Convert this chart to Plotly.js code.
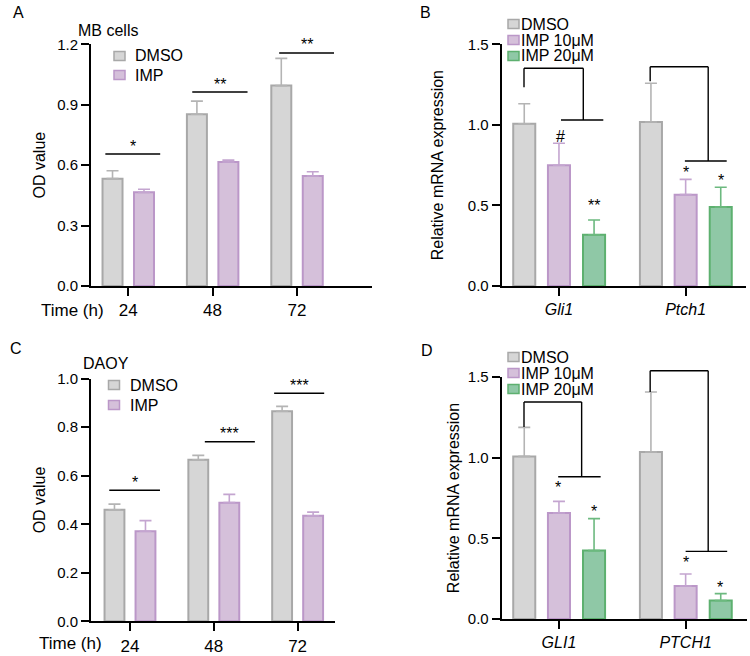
<!DOCTYPE html>
<html>
<head>
<meta charset="utf-8">
<script src="https://cdn.plot.ly/plotly-3.0.1.min.js"></script>
<style>html,body{margin:0;padding:0;background:#fff;}#chart{width:750px;height:656px;}</style>
</head>
<body>
<div id="chart"></div>
<script>
// ---------- data ----------
const timeCats = ['24', '48', '72'];
const geneCatsB = ['Gli1', 'Ptch1'];
const geneCatsD = ['GLI1', 'PTCH1'];

// Panel A: MB cells
const mbDmso = [0.533, 0.853, 0.995];
const mbDmsoSd = [0.039, 0.065, 0.135];
const mbImp = [0.465, 0.616, 0.546];
const mbImpSd = [0.015, 0.009, 0.021];
const mbSig = ['*', '**', '**'];

// Panel C: DAOY
const daoyDmso = [0.460, 0.666, 0.866];
const daoyDmsoSd = [0.023, 0.018, 0.020];
const daoyImp = [0.371, 0.489, 0.435];
const daoyImpSd = [0.044, 0.034, 0.015];
const daoySig = ['*', '***', '***'];

// Panel B: mouse mRNA
const bDmso = [1.007, 1.018];
const bDmsoSd = [0.124, 0.240];
const bImp10 = [0.749, 0.567];
const bImp10Sd = [0.137, 0.095];
const bImp20 = [0.318, 0.490];
const bImp20Sd = [0.092, 0.123];
const bSig10 = ['#', '*'];
const bSig20 = ['**', '*'];

// Panel D: human mRNA
const dDmso = [1.008, 1.035];
const dDmsoSd = [0.180, 0.372];
const dImp10 = [0.657, 0.205];
const dImp10Sd = [0.072, 0.074];
const dImp20 = [0.424, 0.114];
const dImp20Sd = [0.198, 0.043];
const dSig10 = ['*', '*'];
const dSig20 = ['*', '*'];

const seriesTwo = ['DMSO', 'IMP'];
const seriesThree = ['DMSO', 'IMP 10μM', 'IMP 20μM'];

// ---------- styles ----------
const FONT = 'Liberation Sans, Arial, Helvetica, sans-serif';
const GRAY = {fill: '#d6d6d6', line: '#a8a8a8', err: '#b4b4b4'};
const PURP = {fill: '#d5c0da', line: '#bb97c8', err: '#c4a5d0'};
const GREEN = {fill: '#8fc8a6', line: '#5db06f', err: '#6cb97f'};

function barTrace(xa, ya, cats, vals, sd, sty, offset, width) {
  return {
    type: 'bar', x: cats, y: vals, xaxis: xa, yaxis: ya,
    offset: offset, width: width, showlegend: false,
    marker: {color: sty.fill, line: {color: sty.line, width: 2}},
    error_y: {type: 'data', symmetric: false, array: sd, arrayminus: sd.map(() => 0),
              color: sty.err, thickness: 1.6, width: 6},
    hoverinfo: 'skip'
  };
}

const wAC = 0.237, wBD = 0.174;
const traces = [
  barTrace('x', 'y', timeCats, mbDmso, mbDmsoSd, GRAY, -0.185 - wAC / 2, wAC),
  barTrace('x', 'y', timeCats, mbImp, mbImpSd, PURP, 0.188 - wAC / 2, wAC),
  barTrace('x2', 'y2', geneCatsB, bDmso, bDmsoSd, GRAY, -0.274 - wBD / 2, wBD),
  barTrace('x2', 'y2', geneCatsB, bImp10, bImp10Sd, PURP, 0.0 - wBD / 2, wBD),
  barTrace('x2', 'y2', geneCatsB, bImp20, bImp20Sd, GREEN, 0.277 - wBD / 2, wBD),
  barTrace('x3', 'y3', timeCats, daoyDmso, daoyDmsoSd, GRAY, -0.185 - wAC / 2, wAC),
  barTrace('x3', 'y3', timeCats, daoyImp, daoyImpSd, PURP, 0.185 - wAC / 2, wAC),
  barTrace('x4', 'y4', geneCatsD, dDmso, dDmsoSd, GRAY, -0.274 - wBD / 2, wBD),
  barTrace('x4', 'y4', geneCatsD, dImp10, dImp10Sd, PURP, 0.0 - wBD / 2, wBD),
  barTrace('x4', 'y4', geneCatsD, dImp20, dImp20Sd, GREEN, 0.277 - wBD / 2, wBD)
];

function xAxis(domain, range, anchor, italic, cats, fsize) {
  const ax = {
    domain: domain, range: range, anchor: anchor, type: 'category',
    showline: true, linewidth: 2, linecolor: '#000', mirror: false,
    ticks: 'outside', ticklen: 8, tickwidth: 2, tickcolor: '#000',
    showgrid: false, zeroline: false, fixedrange: true,
    tickfont: {family: FONT, size: fsize, color: '#000'}
  };
  if (italic) {
    ax.tickmode = 'array';
    ax.tickvals = cats;
    ax.ticktext = cats.map(c => '<i>' + c + '</i>');
  }
  return ax;
}
function yAxis(domain, range, dtick, anchor, title, standoff) {
  return {
    domain: domain, range: range, anchor: anchor, dtick: dtick, tick0: 0,
    tickformat: '.1f', showline: true, linewidth: 2, linecolor: '#000',
    ticks: 'outside', ticklen: 8, tickwidth: 2, tickcolor: '#000',
    showgrid: false, zeroline: false, fixedrange: true,
    tickfont: {family: FONT, size: 15, color: '#000'},
    title: {text: title, font: {family: FONT, size: 16, color: '#000'}, standoff: standoff}
  };
}

const W = 750, H = 656;
const px = v => v / W, py = v => 1 - v / H;

const shapes = [];
const annotations = [];

function text(x, y, t, size, opts) {
  annotations.push(Object.assign({
    x: x, y: y, xref: 'paper', yref: 'paper', text: t, showarrow: false,
    font: {family: FONT, size: size, color: '#000'}, xanchor: 'center', yanchor: 'middle'
  }, opts || {}));
}

// panel letters and sub-titles
text(px(18), py(12), 'A', 16);
text(px(425), py(12), 'B', 16);
text(px(16), py(348), 'C', 16);
text(px(427), py(350), 'D', 16);
text(px(76), py(30), 'MB cells', 16, {xanchor: 'left'});
text(px(81), py(363), 'DAOY', 16, {xanchor: 'left'});
text(px(106), py(310), 'Time (h)', 17, {xanchor: 'right'});
text(px(104), py(643), 'Time (h)', 17, {xanchor: 'right'});

// manual legends
function legend(names, colors, sqX, txtX, yCenters, sqW, sqH) {
  names.forEach((n, i) => {
    const yc = yCenters[i];
    shapes.push({type: 'rect', xref: 'paper', yref: 'paper',
      x0: px(sqX), x1: px(sqX + sqW), y0: py(yc - sqH / 2), y1: py(yc + sqH / 2),
      fillcolor: colors[i].fill, line: {color: colors[i].line, width: 1.5}});
    text(px(txtX), py(yc), n, 16, {xanchor: 'left'});
  });
}
legend(seriesTwo, [GRAY, PURP], 114, 133, [56, 75], 11, 9);
legend(seriesTwo, [GRAY, PURP], 108.5, 128, [385, 405], 11, 9);
legend(seriesThree, [GRAY, PURP, GREEN], 508, 519, [24, 40, 56], 11, 9);
legend(seriesThree, [GRAY, PURP, GREEN], 508, 519, [357, 373, 389], 11, 9);

// significance lines for A and C (segment ends relative to each category centre)
function sigLines(xa, ya, ymax, segs, labels) {
  segs.forEach((s, i) => {
    const x0 = i + s[0], x1 = i + s[1];
    shapes.push({type: 'line', xref: xa, yref: ya + ' domain',
      x0: x0, x1: x1, y0: s[2] / ymax, y1: s[2] / ymax, line: {color: '#000', width: 1.4}});
    annotations.push({x: (x0 + x1) / 2, y: s[2], xref: xa, yref: ya, text: labels[i],
      showarrow: false, yanchor: 'middle', yshift: 8,
      font: {family: FONT, size: 16, color: '#000'}});
  });
}
sigLines('x', 'y', 1.2, [[-0.27, 0.38, 0.655], [-0.24, 0.415, 0.963], [-0.21, 0.44, 1.157]], mbSig);
sigLines('x3', 'y3', 1.0, [[-0.247, 0.358, 0.54], [-0.107, 0.49, 0.74], [-0.28, 0.317, 0.94]], daoySig);

// brackets for B and D
function bracket(xa, ya, ymax, xl, yl0, ytop, xr, ybot, bx0, bx1) {
  const d = v => v / ymax;
  const yr = ya + ' domain';
  const L = {color: '#000', width: 1.4};
  shapes.push({type: 'line', xref: xa, yref: yr, x0: xl, x1: xl, y0: d(yl0), y1: d(ytop), line: L});
  shapes.push({type: 'line', xref: xa, yref: yr, x0: xl, x1: xr, y0: d(ytop), y1: d(ytop), line: L});
  shapes.push({type: 'line', xref: xa, yref: yr, x0: xr, x1: xr, y0: d(ytop), y1: d(ybot), line: L});
  shapes.push({type: 'line', xref: xa, yref: yr, x0: bx0, x1: bx1, y0: d(ybot), y1: d(ybot), line: L});
}
bracket('x2', 'y2', 1.5, -0.276, 1.233, 1.351, 0.192, 1.03, 0.016, 0.35);
bracket('x2', 'y2', 1.5, 0.72, 1.27, 1.361, 1.178, 0.776, 0.994, 1.324);
bracket('x4', 'y4', 1.5, -0.276, 1.19, 1.345, 0.179, 0.882, -0.006, 0.329);
bracket('x4', 'y4', 1.5, 0.72, 1.407, 1.539, 1.178, 0.419, 1.0, 1.328);

function mark(xa, ya, x, y, t, shift) {
  annotations.push({x: x, y: y, xref: xa, yref: ya, text: t, showarrow: false,
    yanchor: 'middle', yshift: shift, font: {family: FONT, size: 16, color: '#000'}});
}
mark('x2', 'y2', 0.013, 0.937, bSig10[0], -1);
mark('x2', 'y2', 0.279, 0.523, bSig20[0], -4);
mark('x2', 'y2', 1.0, 0.73, bSig10[1], -4);
mark('x2', 'y2', 1.276, 0.678, bSig20[1], -4);
mark('x4', 'y4', -0.006, 0.839, dSig10[0], -4);
mark('x4', 'y4', 0.278, 0.694, dSig20[0], -4);
mark('x4', 'y4', 1.0, 0.378, dSig10[1], -4);
mark('x4', 'y4', 1.27, 0.217, dSig20[1], -4);

const layout = {
  width: W, height: H, margin: {l: 0, r: 0, t: 0, b: 0},
  paper_bgcolor: '#fff', plot_bgcolor: 'rgba(0,0,0,0)',
  barmode: 'overlay', showlegend: false,
  font: {family: FONT, size: 15, color: '#000'},
  xaxis: xAxis([px(91), px(372)], [-0.44, 2.89], 'y', false, timeCats, 17),
  yaxis: yAxis([py(286), py(44.3)], [0, 1.2], 0.3, 'x', 'OD value', 8),
  xaxis2: xAxis([px(501.7), px(745.7)], [-0.452, 1.474], 'y2', true, geneCatsB, 16),
  yaxis2: yAxis([py(286), py(44.3)], [0, 1.5], 0.5, 'x2', 'Relative mRNA expression', 20),
  xaxis3: xAxis([px(91), px(335)], [-0.465, 2.446], 'y3', false, timeCats, 17),
  yaxis3: yAxis([py(621.3), py(378.7)], [0, 1.0], 0.2, 'x3', 'OD value', 8),
  xaxis4: xAxis([px(501.7), px(746.7)], [-0.452, 1.482], 'y4', true, geneCatsD, 16),
  yaxis4: yAxis([py(619), py(377)], [0, 1.5], 0.5, 'x4', 'Relative mRNA expression', 4),
  shapes: shapes,
  annotations: annotations
};

Plotly.newPlot('chart', traces, layout, {displayModeBar: false, staticPlot: true});
</script>
</body>
</html>
